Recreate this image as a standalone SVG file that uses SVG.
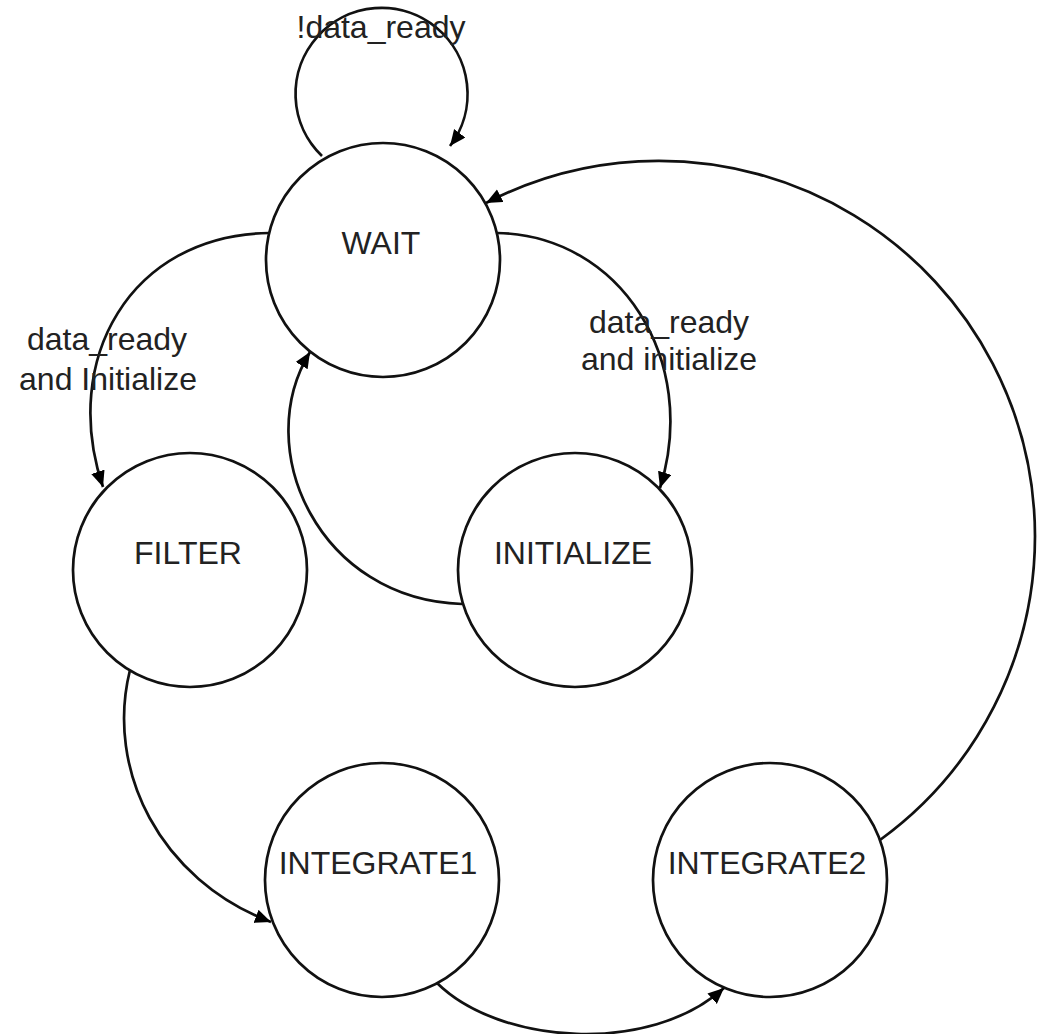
<svg xmlns="http://www.w3.org/2000/svg" width="1041" height="1034" viewBox="0 0 1041 1034">
<style>
.state{fill:#fff;stroke:#111;stroke-width:2.7}
.edge{fill:none;stroke:#111;stroke-width:2.7;marker-end:url(#arrow)}
text{font-family:"Liberation Sans",Arial,sans-serif;font-size:32px;fill:#222;text-anchor:middle}
</style>
<defs>
<marker id="arrow" markerUnits="userSpaceOnUse" markerWidth="18" markerHeight="16" refX="16" refY="7" orient="auto">
<path d="M0,0 L16,7 L0,14 z" fill="#000"/>
</marker>
</defs>
<rect width="1041" height="1034" fill="#fff"/>
<g id="WAIT"><circle class="state" cx="383" cy="260" r="117"/><text x="381" y="254">WAIT</text></g>
<g id="FILTER"><circle class="state" cx="190" cy="570" r="117"/><text x="188" y="564">FILTER</text></g>
<g id="INITIALIZE"><circle class="state" cx="575" cy="570" r="117"/><text x="573" y="564">INITIALIZE</text></g>
<g id="INTEGRATE1"><circle class="state" cx="382" cy="880" r="117"/><text x="378" y="874">INTEGRATE1</text></g>
<g id="INTEGRATE2"><circle class="state" cx="770" cy="880" r="117"/><text x="767" y="874">INTEGRATE2</text></g>
<g id="connectors">
<path class="edge" d="M322,156 A86,86 0 1 1 450,146"/>
<path class="edge" d="M269,233 C130,235 60,360 103,487"/>
<path class="edge" d="M497,233 C620,235 700,360 660,488"/>
<path class="edge" d="M462,604 C320,600 250,450 310,352"/>
<path class="edge" d="M130,670 C105,770 160,880 271,922"/>
<path class="edge" d="M437,983 C500,1045 650,1055 724,988"/>
<path class="edge" d="M880,840 A376,376 0 0 0 1035,536 A376,376 0 0 0 486,203"/>
</g>
<g id="labels">
<text x="381" y="38">!data_ready</text>
<text x="107" y="350">data_ready</text>
<text x="108" y="390">and Initialize</text>
<text x="669" y="333">data_ready</text>
<text x="669" y="370">and initialize</text>
</g>
</svg>
